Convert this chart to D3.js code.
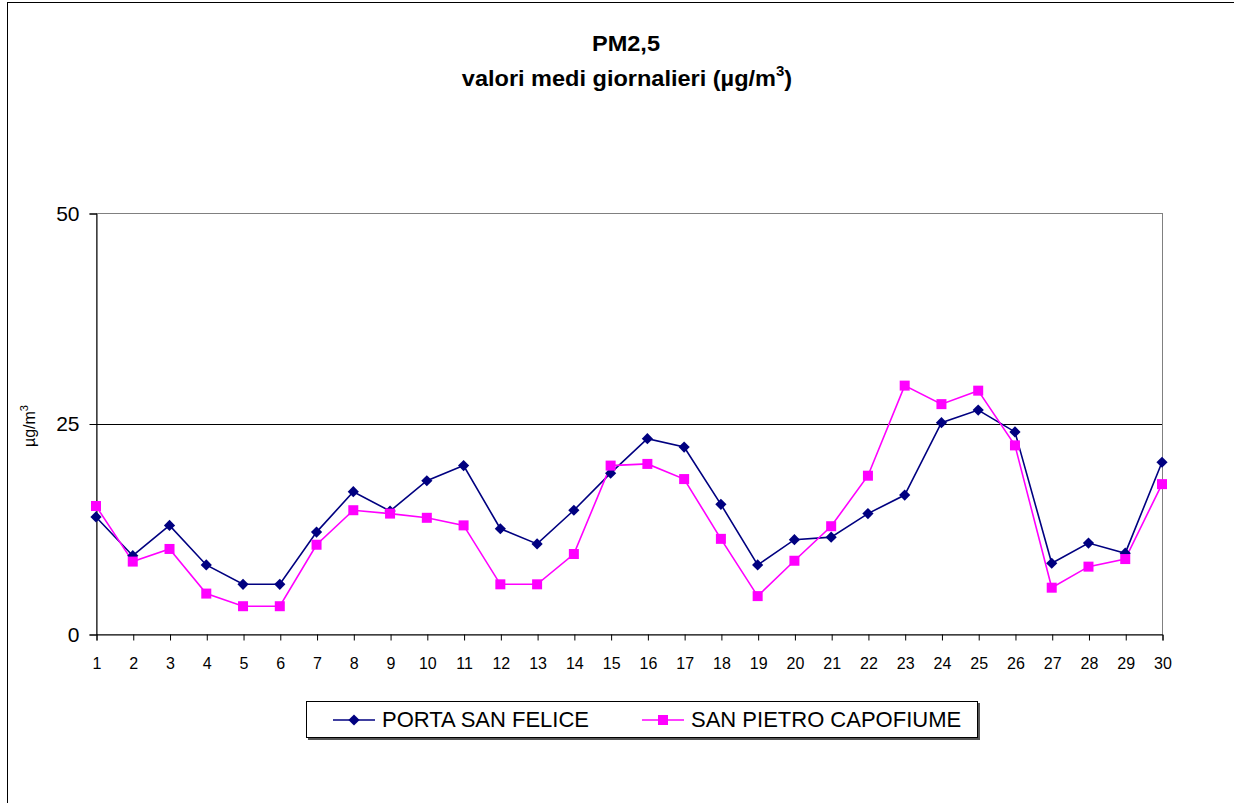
<!DOCTYPE html>
<html>
<head>
<meta charset="utf-8">
<script src="https://cdn.jsdelivr.net/npm/d3@7"></script>
<style>
  body { margin: 0; background: #fff; }
  text { font-family: "Liberation Sans", Arial, sans-serif; }
</style>
</head>
<body>
<script>
var width = 1234,
  height = 803;

var days = d3.range(1, 31);
var portaSanFelice = [13.9, 9.3, 12.9, 8.2, 5.9, 5.9, 12.1, 16.9, 14.6, 18.2,
  20.0, 12.5, 10.7, 14.7, 19.1, 23.2, 22.2, 15.4, 8.2, 11.2,
  11.5, 14.3, 16.5, 25.1, 26.6, 24.0, 8.4, 10.8, 9.6, 20.4];
var sanPietroCapofiume = [15.2, 8.6, 10.1, 4.8, 3.3, 3.3, 10.6, 14.7, 14.3, 13.8,
  12.9, 5.9, 5.9, 9.5, 20.0, 20.2, 18.4, 11.3, 4.5, 8.7,
  12.8, 18.8, 29.5, 27.3, 28.9, 22.4, 5.5, 8.0, 8.9, 17.8];
var yTicks = [0, 25, 50];
var gridValues = [25];
var seriesNames = ['PORTA SAN FELICE', 'SAN PIETRO CAPOFIUME'];

var x = d3.scaleLinear().domain([1, 30]).range([96, 1162]);
var y = d3.scaleLinear().domain([0, 50]).range([634, 213]);

var svg = d3.select('body').append('svg')
  .attr('width', width)
  .attr('height', height);

// outer chart frame
svg.append('rect')
  .attr('x', 7.5).attr('y', 2.5)
  .attr('width', 1240).attr('height', 820)
  .attr('fill', 'none').attr('stroke', '#000');

// titles (stretched a little, like the original)
function stretch(cx, s) {
  return 'translate(' + cx + ',0) scale(' + s + ',1) translate(' + (-cx) + ',0)';
}
svg.append('text')
  .attr('x', 626).attr('y', 51)
  .attr('text-anchor', 'middle')
  .attr('font-size', 22).attr('font-weight', 'bold')
  .attr('transform', stretch(626, 1.07))
  .text('PM2,5');
var t2 = svg.append('text')
  .attr('x', 627).attr('y', 86)
  .attr('text-anchor', 'middle')
  .attr('font-size', 22).attr('font-weight', 'bold')
  .attr('transform', stretch(627, 1.07));
t2.append('tspan').text('valori medi giornalieri (µg/m');
t2.append('tspan').attr('dy', -10).attr('font-size', 14).text('3');
t2.append('tspan').attr('dy', 10).text(')');

// plot area border (grey)
svg.append('rect')
  .attr('x', 96.5).attr('y', y(50) + 0.5)
  .attr('width', x(30) - 96).attr('height', y(0) - y(50))
  .attr('fill', 'none').attr('stroke', '#808080');

// gridlines
svg.append('g').selectAll('line')
  .data(gridValues)
  .enter().append('line')
  .attr('x1', 96).attr('x2', x(30))
  .attr('y1', function(d) { return Math.round(y(d)) + 0.5; })
  .attr('y2', function(d) { return Math.round(y(d)) + 0.5; })
  .attr('stroke', '#000');

// y axis
var yAxis = svg.append('g')
  .attr('transform', 'translate(96.5,0.5)')
  .call(d3.axisLeft(y).tickValues(yTicks).tickSize(7).tickPadding(10));
yAxis.select('.domain').attr('stroke', '#000');
yAxis.selectAll('line').attr('stroke', '#000');
yAxis.selectAll('text').attr('font-size', 21).attr('fill', '#000')
  .attr('font-family', '"Liberation Sans", Arial, sans-serif');

// x axis
var xAxis = svg.append('g')
  .attr('transform', 'translate(0.5,' + (y(0) + 0.5) + ')')
  .call(d3.axisBottom(x).tickValues(days).tickFormat(d3.format('d')).tickSize(6).tickPadding(17));
xAxis.select('.domain').attr('stroke', '#000');
xAxis.selectAll('line').attr('stroke', '#000');
xAxis.selectAll('text').attr('font-size', 16).attr('fill', '#000')
  .attr('font-family', '"Liberation Sans", Arial, sans-serif');

// y axis title
var yt = svg.append('text')
  .attr('transform', 'translate(35,426) rotate(-90)')
  .attr('text-anchor', 'middle')
  .attr('font-size', 16);
yt.append('tspan').text('µg/m');
yt.append('tspan').attr('dy', -7).attr('font-size', 11).text('3');

// series
var line = d3.line()
  .x(function(d, i) { return x(days[i]); })
  .y(function(d) { return y(d); });

svg.append('path')
  .datum(portaSanFelice)
  .attr('d', line)
  .attr('fill', 'none').attr('stroke', '#000080').attr('stroke-width', 1.6);
svg.append('path')
  .datum(sanPietroCapofiume)
  .attr('d', line)
  .attr('fill', 'none').attr('stroke', '#FF00FF').attr('stroke-width', 1.6);

var diamond = d3.symbol().type(d3.symbolDiamond2).size(80);
svg.append('g').selectAll('path')
  .data(portaSanFelice)
  .enter().append('path')
  .attr('d', diamond)
  .attr('transform', function(d, i) { return 'translate(' + x(days[i]) + ',' + y(d) + ')'; })
  .attr('fill', '#000080');

svg.append('g').selectAll('rect')
  .data(sanPietroCapofiume)
  .enter().append('rect')
  .attr('x', function(d, i) { return x(days[i]) - 5; })
  .attr('y', function(d) { return y(d) - 5; })
  .attr('width', 10).attr('height', 10)
  .attr('fill', '#FF00FF');

// legend
var legend = svg.append('g');
legend.append('rect')
  .attr('x', 308).attr('y', 703)
  .attr('width', 672).attr('height', 37)
  .attr('fill', '#555');
legend.append('rect')
  .attr('x', 306.5).attr('y', 701.5)
  .attr('width', 671).attr('height', 36)
  .attr('fill', '#fff').attr('stroke', '#000');

var legendX = [333, 642];
var legendColors = ['#000080', '#FF00FF'];
legendX.forEach(function(lx, i) {
  legend.append('line')
    .attr('x1', lx).attr('x2', lx + 42)
    .attr('y1', 720).attr('y2', 720)
    .attr('stroke', legendColors[i]).attr('stroke-width', 1.6);
  if (i === 0) {
    legend.append('path')
      .attr('d', diamond)
      .attr('transform', 'translate(' + (lx + 21) + ',720)')
      .attr('fill', legendColors[i]);
  } else {
    legend.append('rect')
      .attr('x', lx + 16).attr('y', 715)
      .attr('width', 10).attr('height', 10)
      .attr('fill', legendColors[i]);
  }
  legend.append('text')
    .attr('x', lx + 49).attr('y', 727)
    .attr('font-size', 22)
    .text(seriesNames[i]);
});
</script>
</body>
</html>
